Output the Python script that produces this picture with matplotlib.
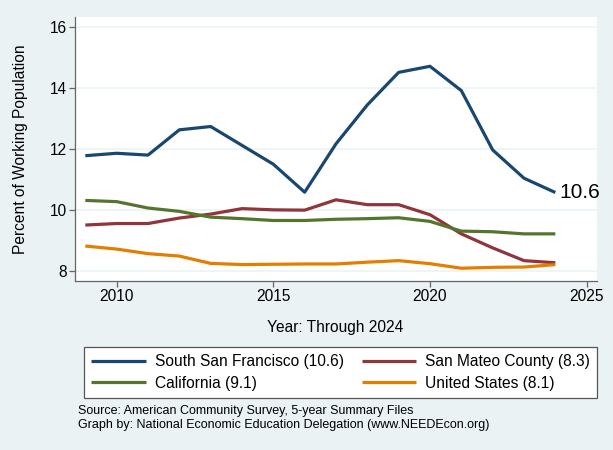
import matplotlib.pyplot as plt

plt.rcParams['font.family'] = ['Liberation Sans', 'DejaVu Sans']

# values
years = list(range(2009, 2025))
ssf = [11.78, 11.86, 11.80, 12.63, 12.74, 12.12, 11.50, 10.58,
       12.17, 13.45, 14.52, 14.72, 13.92, 11.97, 11.04, 10.57]
san_mateo = [9.50, 9.55, 9.55, 9.73, 9.86, 10.04, 10.00, 9.99,
             10.33, 10.17, 10.17, 9.84, 9.21, 8.75, 8.33, 8.26]
california = [10.31, 10.27, 10.06, 9.95, 9.76, 9.71, 9.65, 9.65,
              9.69, 9.71, 9.74, 9.62, 9.30, 9.28, 9.21, 9.21]
united_states = [8.81, 8.71, 8.56, 8.48, 8.24, 8.20, 8.21, 8.22,
                 8.22, 8.28, 8.33, 8.23, 8.08, 8.11, 8.12, 8.20]
labels = ['South San Francisco (10.6)', 'San Mateo County (8.3)',
          'California (9.1)', 'United States (8.1)']
colors = ['#1a476f', '#90353b', '#55752f', '#e37e00']

bg = '#eaf2f3'
fs = 11.2
fig = plt.figure(figsize=(6.13, 4.5), dpi=100, facecolor=bg)
ax = fig.add_axes([0.1223, 0.3762, 0.8511, 0.586])
ax.set_facecolor('white')

series = [ssf, san_mateo, california, united_states]
handles = []
for vals, lab, c in zip(series, labels, colors):
    h, = ax.plot(years, vals, color=c, lw=2.3, label=lab, solid_capstyle='butt')
    handles.append(h)

ax.annotate('10.6', xy=(years[-1], ssf[-1]), xytext=(3, 0),
            textcoords='offset points', va='center', ha='left', fontsize=15)

ax.set_xlim(2008.67, 2025.32)
ax.set_ylim(7.67, 16.34)
ax.set_xticks([2010, 2015, 2020, 2025])
ax.set_yticks([8, 10, 12, 14, 16])
ax.grid(axis='y', color=bg, lw=1.1)
ax.set_axisbelow(True)

for s in ['top', 'right']:
    ax.spines[s].set_visible(False)
for s in ['left', 'bottom']:
    ax.spines[s].set_color('#666666')
    ax.spines[s].set_linewidth(0.9)
ax.tick_params(colors='#666666', labelcolor='black', length=4, width=0.9,
               labelsize=fs, pad=2)

fig.text(0.033, 0.669, 'Percent of Working Population', rotation=90,
         ha='center', va='center', fontsize=fs)
fig.text(0.5465, 0.2733, 'Year: Through 2024', ha='center', va='center',
         fontsize=fs)

# row-major order: SSF, San Mateo / California, US
order = [0, 2, 1, 3]
leg = ax.legend([handles[i] for i in order], [labels[i] for i in order],
                loc='center', bbox_to_anchor=(0.5555, 0.1722),
                bbox_transform=fig.transFigure, ncol=2,
                fontsize=fs, handlelength=3.5, handletextpad=0.58,
                columnspacing=1.15, borderpad=0.45, labelspacing=0.4,
                fancybox=False, framealpha=1, edgecolor='#555555')
leg.get_frame().set_linewidth(0.9)
for line in leg.get_lines():
    line.set_linewidth(2.3)

fig.text(0.1266, 0.0867, 'Source: American Community Survey, 5-year Summary Files',
         ha='left', va='center', fontsize=9)
fig.text(0.1266, 0.0556, 'Graph by: National Economic Education Delegation (www.NEEDEcon.org)',
         ha='left', va='center', fontsize=9)

fig.savefig('out.png', dpi=100, facecolor=bg)
